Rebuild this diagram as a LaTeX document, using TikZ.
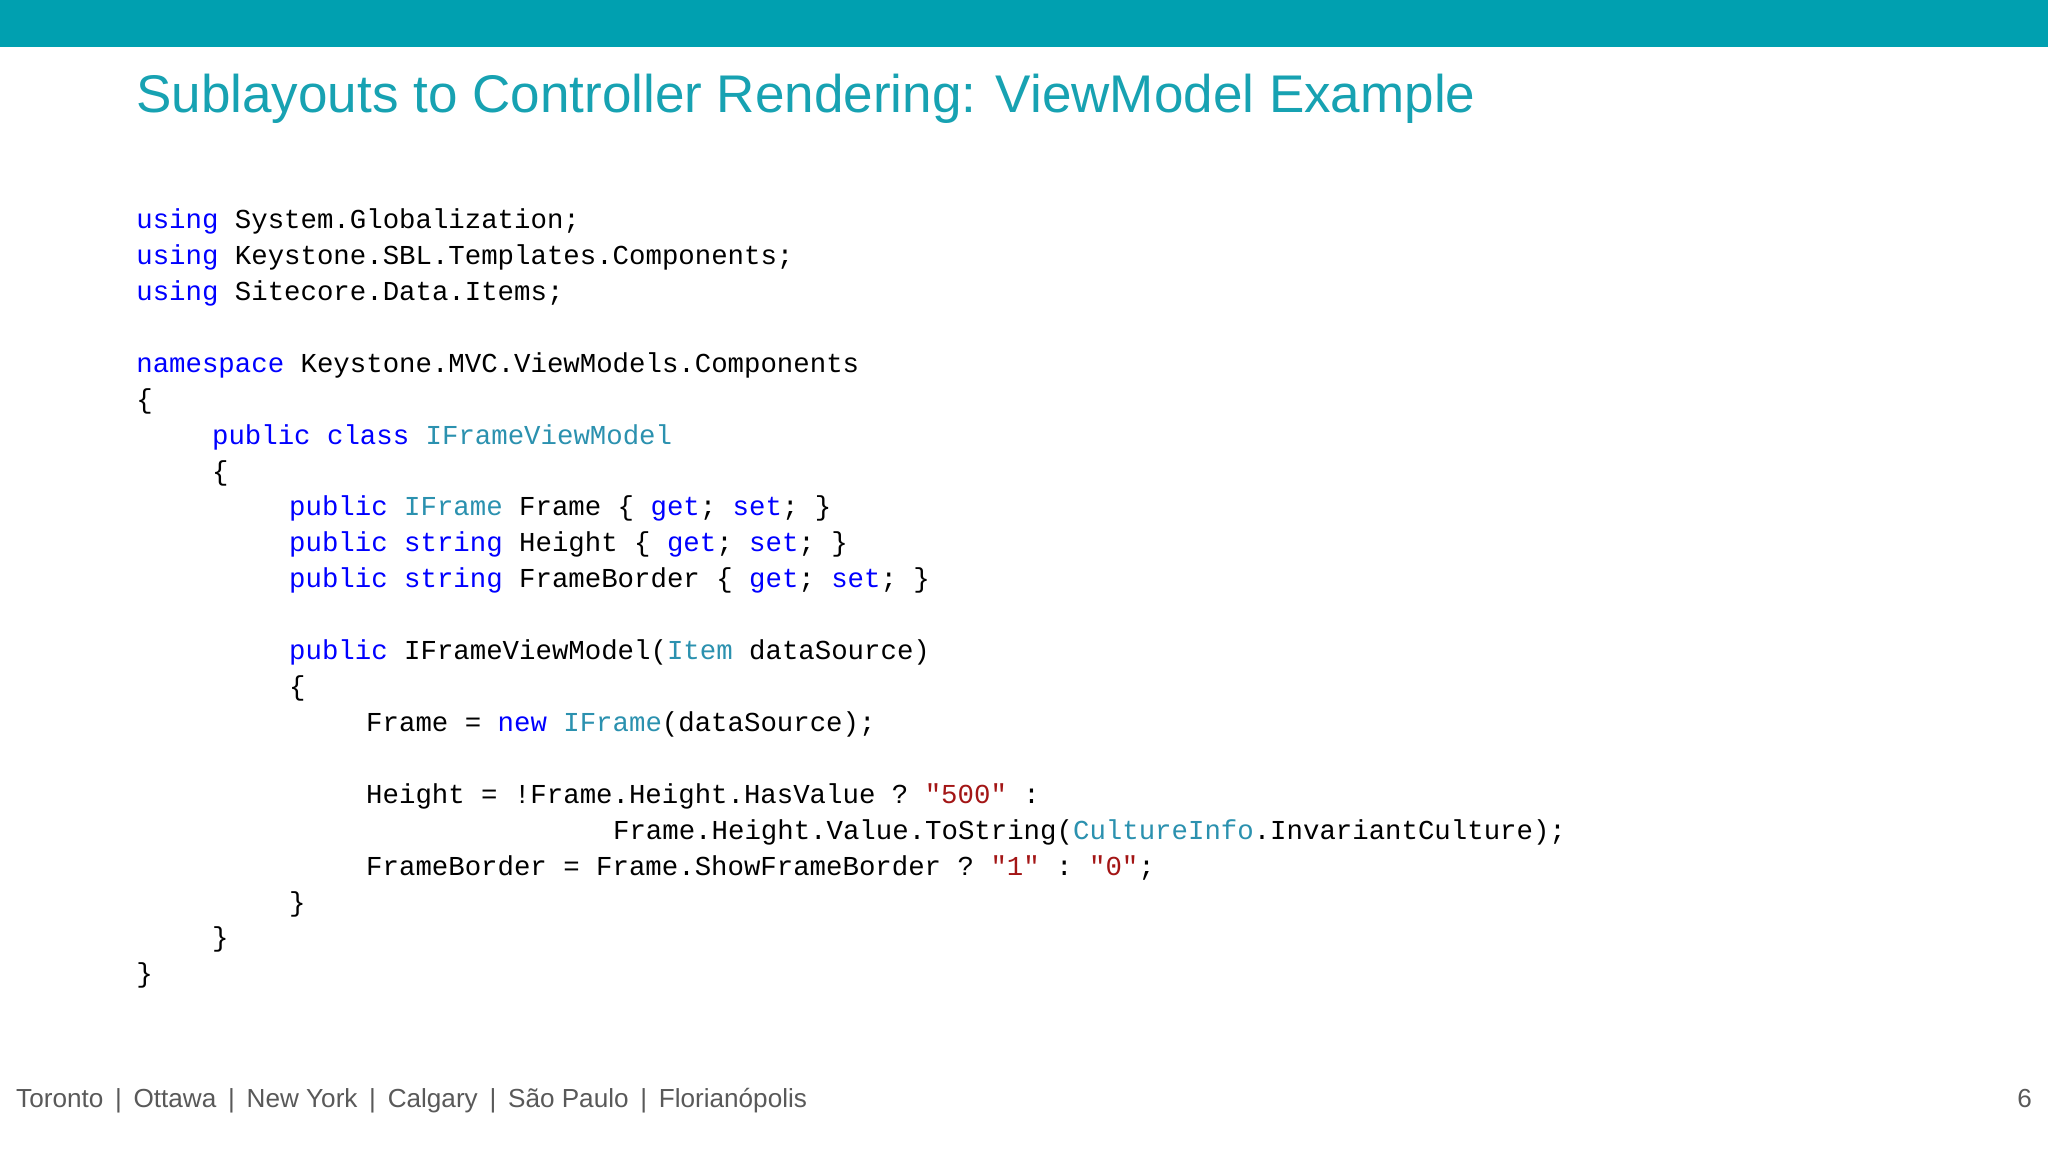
\documentclass[tikz,border=0pt]{standalone}
\usepackage{fontspec}
\setmainfont{Liberation Sans}
\setmonofont{Liberation Mono}
\definecolor{teal1}{HTML}{00A0B0}
\definecolor{titlec}{HTML}{17A2B2}
\definecolor{kwc}{HTML}{0000FF}
\definecolor{tyc}{HTML}{2B91AF}
\definecolor{stc}{HTML}{A31515}
\definecolor{footc}{HTML}{595959}
\newcommand{\kwd}[1]{\textcolor{kwc}{#1}}
\newcommand{\typ}[1]{\textcolor{tyc}{#1}}
\newcommand{\strg}[1]{\textcolor{stc}{#1}}
\newcommand{\fsep}{\hspace{0.45em}\textbar\hspace{0.45em}}
\tikzset{codeline/.style={anchor=base west,inner sep=0pt,font=\ttfamily\fontsize{10.48}{12}\selectfont,text=black},
foot/.style={anchor=base west,inner sep=0pt,font=\fontsize{10}{12}\selectfont,text=footc}}
\begin{document}
\begin{tikzpicture}[x=0.5pt,y=-0.5pt]
\useasboundingbox (0,0) rectangle (1568,882);
\fill[white] (0,0) rectangle (1568,882);
\fill[teal1] (0,0) rectangle (1568,36);
\node[anchor=base west,inner sep=0pt,font=\fontsize{20.3}{24}\selectfont,text=titlec] (title) at (104,86) {Sublayouts to Controller Rendering: ViewModel Example};
\node[codeline] (l0) at (104,175) {\kwd{using} System.Globalization;};
\node[codeline] (l1) at (104,202.5) {\kwd{using} Keystone.SBL.Templates.Components;};
\node[codeline] (l2) at (104,230) {\kwd{using} Sitecore.Data.Items;};
\node[codeline] (l4) at (104,285) {\kwd{namespace} Keystone.MVC.ViewModels.Components};
\node[codeline] (l5) at (104,312.5) {\{};
\node[codeline] (l6) at (162,340) {\kwd{public} \kwd{class} \typ{IFrameViewModel}};
\node[codeline] (l7) at (162,367.5) {\{};
\node[codeline] (l8) at (221,395) {\kwd{public} \typ{IFrame} Frame \{ \kwd{get}; \kwd{set}; \}};
\node[codeline] (l9) at (221,422.5) {\kwd{public} \kwd{string} Height \{ \kwd{get}; \kwd{set}; \}};
\node[codeline] (l10) at (221,450) {\kwd{public} \kwd{string} FrameBorder \{ \kwd{get}; \kwd{set}; \}};
\node[codeline] (l12) at (221,505) {\kwd{public} IFrameViewModel(\typ{Item} dataSource)};
\node[codeline] (l13) at (221,532.5) {\{};
\node[codeline] (l14) at (280,560) {Frame = \kwd{new} \typ{IFrame}(dataSource);};
\node[codeline] (l16) at (280,615) {Height = !Frame.Height.HasValue ? \strg{"500"} :};
\node[codeline] (l17) at (469,642.5) {Frame.Height.Value.ToString(\typ{CultureInfo}.InvariantCulture);};
\node[codeline] (l18) at (280,670) {FrameBorder = Frame.ShowFrameBorder ? \strg{"1"} : \strg{"0"};};
\node[codeline] (l19) at (221,697.5) {\}};
\node[codeline] (l20) at (162,725) {\}};
\node[codeline] (l21) at (104,752.5) {\}};
\node[foot] (f) at (12,848) {Toronto\fsep Ottawa\fsep New York\fsep Calgary\fsep São Paulo\fsep Florianópolis};
\node[foot,anchor=base east] (pg) at (1556,848) {6};
\end{tikzpicture}
\end{document}
